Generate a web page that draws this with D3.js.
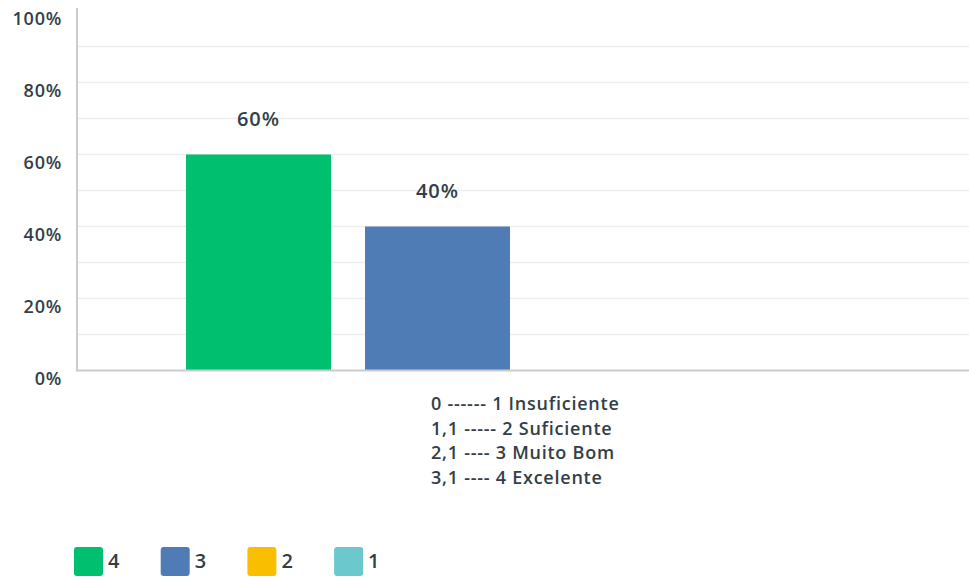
<!DOCTYPE html>
<html>
<head>
<meta charset="utf-8">
<script src="https://cdn.jsdelivr.net/npm/d3@7"></script>
<style>
  body { margin: 0; background: #fff; }
  text { font-family: "Open Sans", "DejaVu Sans", sans-serif; fill: #333e48; letter-spacing: 0.75px; }
</style>
</head>
<body>
<svg id="chart" width="969" height="579"></svg>
<script>
const categories = ["0 ------ 1 Insuficiente\n1,1 ----- 2 Suficiente\n2,1 ---- 3 Muito Bom\n3,1 ---- 4 Excelente"];
const seriesNames = ["4", "3", "2", "1"];
const seriesValues = [[60], [40], [0], [0]];
const seriesColors = ["#00bf6f", "#507cb6", "#f9be00", "#6bc8cd"];
const yTicks = [0, 20, 40, 60, 80, 100];
const yGrid = [10, 20, 30, 40, 50, 60, 70, 80, 90];

const svg = d3.select("#chart");
const margin = { left: 77, right: 0, top: 10.5, bottom: 208.5 };
const W = 969, H = 579;
const plotH = H - margin.top - margin.bottom;

const y = d3.scaleLinear().domain([0, 100]).range([margin.top + plotH, margin.top]);
const x0 = d3.scaleBand().domain(categories).range([margin.left + 4, W + 4]).paddingInner(0).paddingOuter(0.154);
const x1 = d3.scaleBand().domain(seriesNames).range([0, x0.bandwidth()]).paddingInner(0.19).paddingOuter(0);

// gridlines
svg.append("g").selectAll("line").data(yGrid).join("line")
  .attr("x1", margin.left).attr("x2", W)
  .attr("y1", d => y(d)).attr("y2", d => y(d))
  .attr("stroke", "#ededed").attr("stroke-width", 1.5);

// bars
categories.forEach((cat, ci) => {
  const g = svg.append("g");
  seriesNames.forEach((s, si) => {
    const v = seriesValues[si][ci];
    if (v <= 0) return;
    const bx = x0(cat) + x1(s);
    g.append("rect")
      .attr("x", bx).attr("width", x1.bandwidth())
      .attr("y", y(v)).attr("height", y(0) - y(v))
      .attr("fill", seriesColors[si]);
    g.append("text")
      .attr("x", bx + x1.bandwidth() / 2).attr("y", y(v) - 29)
      .attr("text-anchor", "middle")
      .style("font-size", "20px").style("font-weight", 600).style("letter-spacing", "1px")
      .text(v + "%");
  });
});

// axis lines
svg.append("line").attr("x1", margin.left).attr("x2", margin.left)
  .attr("y1", 8).attr("y2", y(0) + 1).attr("stroke", "#cccccc").attr("stroke-width", 2);
svg.append("line").attr("x1", margin.left).attr("x2", W)
  .attr("y1", y(0)).attr("y2", y(0)).attr("stroke", "#cccccc").attr("stroke-width", 2);

// y labels
svg.append("g").selectAll("text").data(yTicks).join("text")
  .attr("x", 62).attr("y", d => y(d) + 14)
  .attr("text-anchor", "end")
  .style("font-size", "18px").style("font-weight", 600)
  .text(d => d + "%");

// x category label (left-aligned block)
categories.forEach(cat => {
  const lines = cat.split("\n");
  svg.append("g").selectAll("text").data(lines).join("text")
    .attr("x", 431).attr("y", (d, i) => 410 + i * 24.7)
    .attr("text-anchor", "start")
    .style("font-size", "18px").style("font-weight", 600)
    .text(d => d);
});

// legend
const leg = svg.append("g").selectAll("g").data(seriesNames).join("g")
  .attr("transform", (d, i) => `translate(${74 + i * 86.7},547)`);
leg.append("rect").attr("width", 29).attr("height", 29).attr("rx", 3)
  .attr("fill", (d, i) => seriesColors[i]);
leg.append("text").attr("x", 34).attr("y", 21)
  .style("font-size", "20px").style("font-weight", 600)
  .text(d => d);
</script>
</body>
</html>
